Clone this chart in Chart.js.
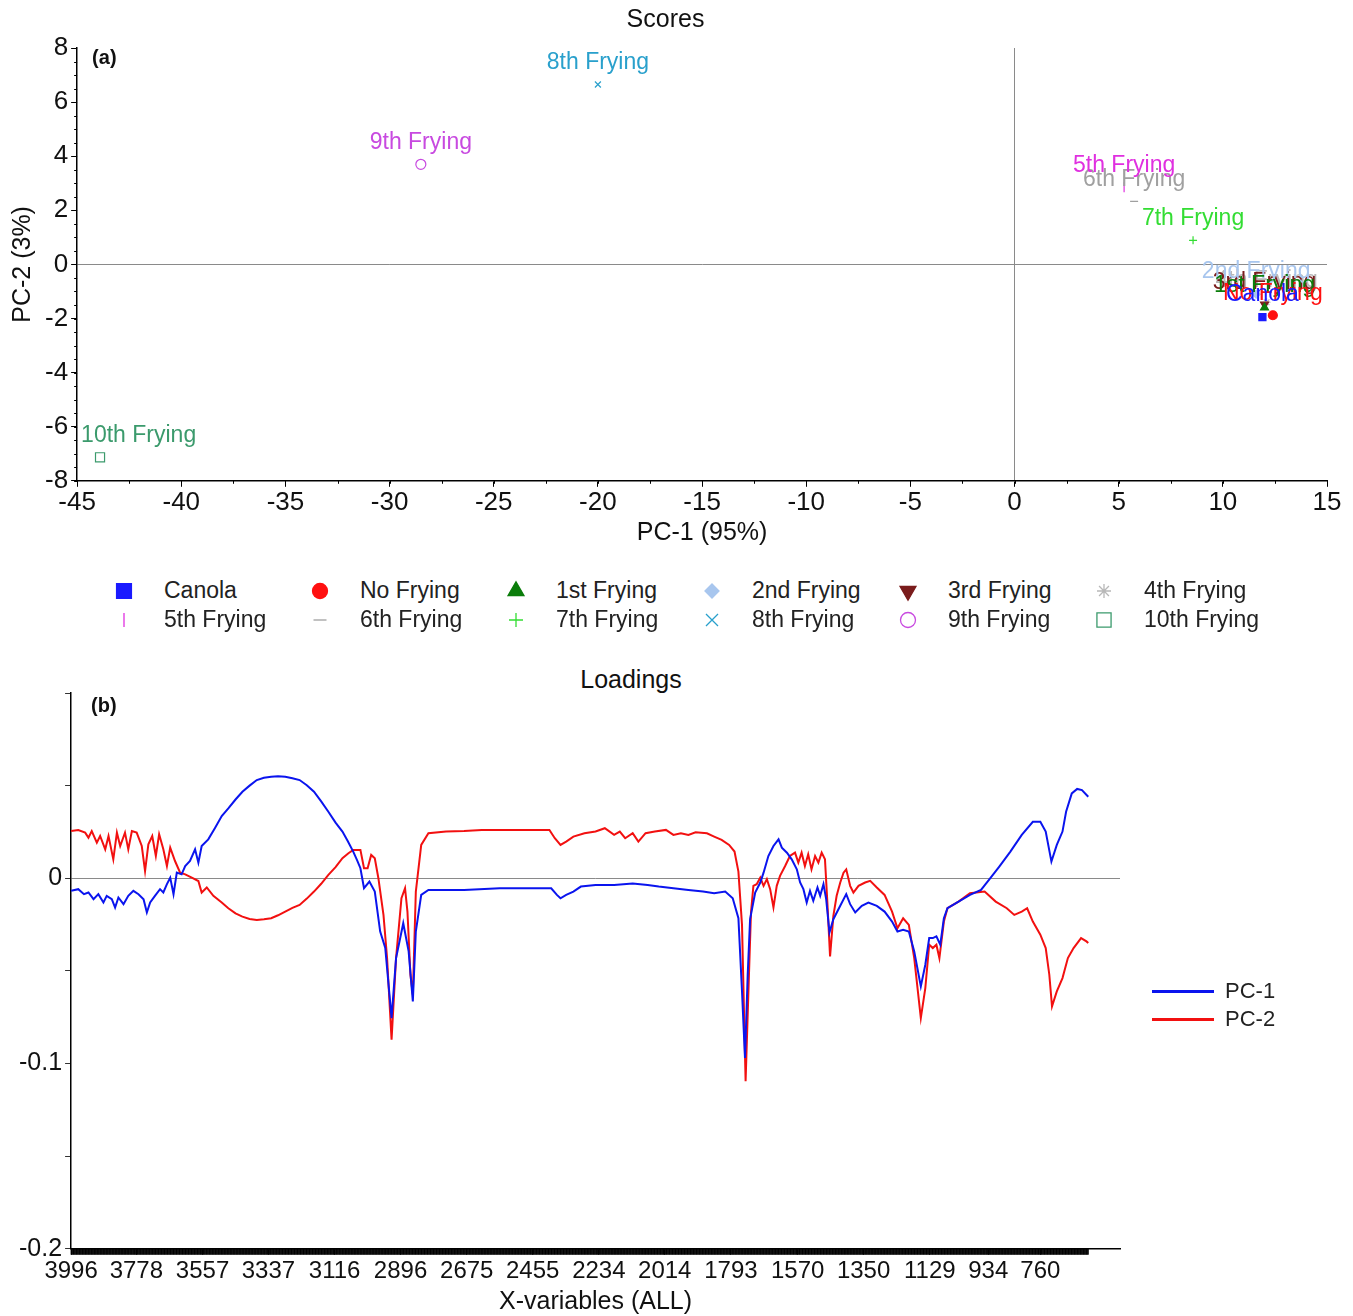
<!DOCTYPE html>
<html>
<head>
<meta charset="utf-8">
<title>Scores and Loadings</title>
<script src="https://cdn.jsdelivr.net/npm/chart.js"></script>
<style>
  body { margin: 0; background: #fff; font-family: "Liberation Sans", Arial, sans-serif; color: #222; }
  #page { position: relative; width: 1353px; height: 1316px; overflow: hidden; }
  #scoresBox { position: absolute; left: 0; top: 0; width: 1353px; height: 560px; }
  #loadBox { position: absolute; left: 0; top: 646px; width: 1353px; height: 670px; }
  #scoresLegend { position: absolute; left: 112px; top: 576px; display: grid; grid-template-columns: repeat(6, 196px); grid-auto-rows: 29px; }
  .item { display: flex; align-items: center; font-size: 23px; color: #222; white-space: nowrap; }
  .item canvas { width: 24px; height: 24px; margin-right: 28px; }
  #loadTitle { position: absolute; top: 664px; left: 531px; width: 200px; line-height: 30px; text-align: center; font-size: 25px; color: #111; }
  #loadLegend { position: absolute; left: 1152px; top: 977px; }
  .lrow { display: flex; align-items: center; height: 28px; font-size: 22px; color: #222; }
  .lrow span { display: inline-block; width: 62px; height: 3px; margin-right: 11px; }
</style>
</head>
<body>
<div id="page">
  <div id="scoresBox"><canvas id="scoresChart"></canvas></div>
  <div id="scoresLegend"></div>
  <div id="loadTitle">Loadings</div>
  <div id="loadBox"><canvas id="loadingsChart"></canvas></div>
  <div id="loadLegend"></div>
</div>
<script>
// ---- (a) scores ----
const sampleNames = ["Canola", "No Frying", "1st Frying", "2nd Frying", "3rd Frying", "4th Frying",
  "5th Frying", "6th Frying", "7th Frying", "8th Frying", "9th Frying", "10th Frying"];
const pc1Scores = [11.9, 12.4, 12.0, 11.6, 12.0, 12.1, 5.26, 5.74, 8.57, -20.0, -28.5, -43.9];
const pc2Scores = [-1.95, -1.88, -1.6, -1.1, -1.48, -1.4, 2.85, 2.33, 0.89, 6.65, 3.70, -7.13];

const markerColors = ["#1a1aff", "#ff1010", "#0b7d0b", "#a8c6ee", "#7a1c1c", "#b8b8b8",
  "#e030e0", "#a0a0a0", "#33dd33", "#29a0cc", "#c84ae0", "#3b9a6c"];
const markerStyles = ["rect", "circle", "triangle", "rectRot", "triangle", "star",
  "line", "line", "cross", "crossRot", "circle", "rect"];
const markerRotations = [0, 0, 0, 0, 180, 0, 90, 0, 0, 0, 0, 0];
const markerFilled = [true, true, true, true, true, false, false, false, false, false, false, false];
const markerRadius = [5, 4.5, 4.6, 4, 4.6, 4, 5, 4, 4, 4.2, 5, 6.4];
const legendRadius = [10.5, 7.5, 9.2, 7, 9.2, 7, 7, 6.5, 7, 8.5, 7.5, 10];

// ---- (b) loadings ----
const xTickLabels = [3996, 3778, 3557, 3337, 3116, 2896, 2675, 2455, 2234, 2014, 1793, 1570, 1350, 1129, 934, 760];

const pc1Wavenumbers = [
  3996, 3972, 3953, 3938, 3921, 3905, 3888, 3877, 3860, 3849,
  3838, 3821, 3805, 3788, 3771, 3754, 3743, 3732, 3716, 3699,
  3688, 3676, 3665, 3654, 3643, 3627, 3615, 3599, 3582, 3571,
  3560, 3538, 3515, 3493,
  3471, 3447, 3424, 3400, 3376, 3352, 3328, 3305, 3281, 3257,
  3233, 3209, 3185, 3161, 3137, 3113, 3090, 3072, 3054, 3042,
  3030, 3018, 3000, 2982, 2964, 2947, 2926, 2911, 2887, 2869,
  2855, 2845, 2827, 2803, 2684, 2565, 2446, 2393, 2374, 2362,
  2343, 2319, 2294, 2245, 2183, 2121, 2071, 2034, 1985, 1935,
  1886, 1849, 1812, 1787, 1768, 1756, 1746, 1737,
  1729, 1712, 1695, 1684, 1668, 1651, 1634, 1623, 1606, 1590,
  1573, 1562, 1551, 1540, 1529, 1518, 1504, 1495, 1484, 1475,
  1464, 1451, 1428, 1408, 1395, 1378, 1356, 1334, 1306,
  1280, 1255, 1237, 1218, 1199, 1181, 1159, 1144, 1131, 1119,
  1107, 1094, 1082, 1070, 1033, 995, 958, 927, 897, 860,
  822, 785, 760, 742, 723, 705, 686, 674, 655, 637,
  621, 600];
const pc1Loadings = [
  -0.0068, -0.0059, -0.0086, -0.0077, -0.0113, -0.0086, -0.0131, -0.0095, -0.0113, -0.0158,
  -0.0104, -0.0140, -0.0095, -0.0068, -0.0086, -0.0113, -0.0185, -0.0131, -0.0095, -0.0059,
  -0.0077, -0.0032, 0.0003, -0.0086, 0.0030, 0.0021, 0.0066, 0.0093, 0.0156, 0.0084,
  0.0174, 0.0210, 0.0273, 0.0336,
  0.0377, 0.0425, 0.0467, 0.0500, 0.0530, 0.0542, 0.0548, 0.0550, 0.0548, 0.0540,
  0.0530, 0.0502, 0.0467, 0.0415, 0.0359, 0.0300, 0.0252, 0.0200, 0.0144, 0.0100,
  0.0054, -0.0054, -0.0018, -0.0072, -0.0288, -0.0377, -0.0755, -0.0431, -0.0243, -0.0395,
  -0.0665, -0.0288, -0.0090, -0.0063, -0.0063, -0.0054, -0.0054, -0.0054, -0.0090, -0.0108,
  -0.0090, -0.0072, -0.0045, -0.0036, -0.0036, -0.0029, -0.0036, -0.0045, -0.0054, -0.0063,
  -0.0072, -0.0081, -0.0072, -0.0108, -0.0216, -0.0611, -0.0970, -0.0521,
  -0.0221, -0.0077, -0.0023, 0.0030, 0.0120, 0.0174, 0.0210, 0.0165, 0.0138, 0.0102,
  0.0048, -0.0023, -0.0059, -0.0131, -0.0068, -0.0122, -0.0050, -0.0095, -0.0032, -0.0113,
  -0.0293, -0.0221, -0.0149, -0.0086, -0.0140, -0.0185, -0.0149, -0.0131, -0.0149,
  -0.0180, -0.0234, -0.0288, -0.0279, -0.0288, -0.0395, -0.0584, -0.0467, -0.0323, -0.0323,
  -0.0314, -0.0359, -0.0216, -0.0162, -0.0126, -0.0090, -0.0063, 0.0000, 0.0063, 0.0144,
  0.0234, 0.0305, 0.0305, 0.0252, 0.0090, 0.0180, 0.0252, 0.0359, 0.0458, 0.0482,
  0.0476, 0.0440];

const pc2Wavenumbers = [
  3996, 3972, 3949, 3938, 3927, 3910, 3899, 3882, 3871, 3855,
  3843, 3832, 3816, 3805, 3793, 3777, 3760, 3749, 3738, 3725,
  3713, 3702, 3688, 3676, 3665, 3649, 3632, 3615, 3593, 3571,
  3560, 3543, 3521, 3493,
  3471, 3447, 3424, 3400, 3376, 3352, 3328, 3305, 3281, 3257,
  3233, 3209, 3185, 3161, 3137, 3113, 3090, 3070, 3054, 3030,
  3018, 3006, 2994, 2982, 2970, 2953, 2941, 2926, 2911, 2893,
  2881, 2873, 2863, 2855, 2845, 2827, 2803, 2744, 2684, 2625,
  2565, 2505, 2446, 2399, 2381, 2362, 2343, 2319, 2282, 2245,
  2214, 2183, 2164, 2146, 2121, 2102, 2078, 2047, 2010, 1985,
  1960, 1935, 1911, 1873, 1849, 1824, 1799, 1781, 1768, 1756,
  1744, 1731,
  1726, 1718, 1707, 1695, 1684, 1673, 1662, 1651, 1640, 1629,
  1612, 1596, 1579, 1568, 1557, 1546, 1535, 1524, 1512, 1501,
  1490, 1479, 1471, 1462, 1451, 1440, 1428, 1417, 1408, 1395,
  1384, 1367, 1345, 1328, 1306,
  1280, 1255, 1237, 1218, 1199, 1181, 1159, 1144, 1131, 1119,
  1107, 1097, 1082, 1070, 1033, 995, 946, 909, 872, 847,
  822, 804, 785, 760, 742, 730, 721, 705, 686, 668,
  649, 624, 606, 600];
const pc2Loadings = [
  0.0255, 0.0260, 0.0246, 0.0219, 0.0255, 0.0192, 0.0228, 0.0156, 0.0228, 0.0102,
  0.0246, 0.0174, 0.0246, 0.0156, 0.0255, 0.0246, 0.0174, 0.0039, 0.0183, 0.0228,
  0.0120, 0.0237, 0.0156, 0.0066, 0.0165, 0.0093, 0.0030, 0.0021, 0.0003, -0.0015,
  -0.0077, -0.0050, -0.0095, -0.0131,
  -0.0162, -0.0190, -0.0207, -0.0220, -0.0225, -0.0222, -0.0216, -0.0200, -0.0180, -0.0160,
  -0.0144, -0.0110, -0.0072, -0.0030, 0.0018, 0.0060, 0.0108, 0.0135, 0.0153, 0.0153,
  0.0054, 0.0054, 0.0126, 0.0108, 0.0000, -0.0198, -0.0431, -0.0872, -0.0431, -0.0108,
  -0.0054, -0.0180, -0.0521, -0.0629, -0.0072, 0.0180, 0.0243, 0.0252, 0.0255, 0.0261,
  0.0261, 0.0261, 0.0261, 0.0261, 0.0216, 0.0180, 0.0198, 0.0225, 0.0243, 0.0252,
  0.0270, 0.0234, 0.0252, 0.0216, 0.0243, 0.0198, 0.0243, 0.0252, 0.0261, 0.0234,
  0.0243, 0.0234, 0.0248, 0.0243, 0.0225, 0.0207, 0.0180, 0.0144, 0.0036, -0.0252,
  -0.1096, -0.0431,
  -0.0185, -0.0041, -0.0032, 0.0003, -0.0041, -0.0005, -0.0059, -0.0158, -0.0041, 0.0013,
  0.0066, 0.0120, 0.0138, 0.0084, 0.0138, 0.0066, 0.0129, 0.0048, 0.0120, 0.0084,
  0.0138, 0.0102, -0.0131, -0.0422, -0.0203, -0.0095, -0.0023, 0.0030, 0.0048, -0.0041,
  -0.0077, -0.0041, -0.0023, -0.0014, -0.0050,
  -0.0090, -0.0180, -0.0270, -0.0216, -0.0252, -0.0431, -0.0755, -0.0593, -0.0359, -0.0377,
  -0.0359, -0.0431, -0.0234, -0.0162, -0.0126, -0.0081, -0.0072, -0.0126, -0.0162, -0.0198,
  -0.0180, -0.0162, -0.0234, -0.0305, -0.0377, -0.0521, -0.0692, -0.0611, -0.0539, -0.0431,
  -0.0377, -0.0323, -0.0341, -0.0350];

const loadingNames = ["PC-1", "PC-2"];
const loadingColors = ["#0a14ee", "#f21010"];

Chart.defaults.font.family = '"Liberation Sans", Arial, sans-serif';
Chart.defaults.color = "#111";

// labels above each score point, kept inside the plot on the left
const pointLabels = {
  id: "pointLabels",
  afterDatasetsDraw(chart) {
    const ctx = chart.ctx, area = chart.chartArea;
    ctx.save();
    ctx.font = '23px "Liberation Sans", Arial, sans-serif';
    ctx.textBaseline = "middle";
    for (let i = chart.data.datasets.length - 1; i >= 0; i--) {
      const ds = chart.data.datasets[i];
      chart.getDatasetMeta(i).data.forEach(pt => {
        const w = ctx.measureText(ds.label).width;
        let left = pt.x - w / 2;
        if (left < area.left + 4) left = area.left + 4;
        ctx.fillStyle = markerColors[i];
        ctx.fillText(ds.label, left, pt.y - 22);
      });
    }
    ctx.restore();
  }
};

const panelTag = {
  id: "panelTag",
  afterDraw(chart, args, opts) {
    const ctx = chart.ctx;
    ctx.save();
    ctx.font = 'bold 20px "Liberation Sans", Arial, sans-serif';
    ctx.fillStyle = "#111";
    ctx.textBaseline = "middle";
    ctx.fillText(opts.text, chart.chartArea.left + opts.dx, chart.chartArea.top + opts.dy);
    ctx.restore();
  }
};

const minorTicks = {
  id: "minorTicks",
  afterDraw(chart) {
    const { x, y } = chart.scales, a = chart.chartArea, ctx = chart.ctx;
    ctx.save();
    ctx.strokeStyle = "#000";
    ctx.lineWidth = 1;
    ctx.beginPath();
    for (let v = x.min; v <= x.max; v += 2.5) {
      const px = Math.round(x.getPixelForValue(v)) + 0.5;
      ctx.moveTo(px, a.bottom); ctx.lineTo(px, a.bottom + 3);
    }
    for (let v = y.min; v <= y.max; v += 0.5) {
      const py = Math.round(y.getPixelForValue(v)) + 0.5;
      ctx.moveTo(a.left, py); ctx.lineTo(a.left - 3, py);
    }
    ctx.stroke();
    ctx.restore();
  }
};

// one tick per sampled variable: gives the solid band under the loadings axis
const denseTicks = {
  id: "denseTicks",
  afterDraw(chart) {
    const xs = chart.scales.x, b = chart.chartArea.bottom, ctx = chart.ctx;
    const last = pc1Wavenumbers[pc1Wavenumbers.length - 1];
    ctx.save();
    ctx.strokeStyle = "#000";
    ctx.lineWidth = 1;
    ctx.beginPath();
    for (let w = pc1Wavenumbers[0]; w >= last; w -= 2) {
      const px = xs.getPixelForValue(w);
      ctx.moveTo(px, b); ctx.lineTo(px, b + 6);
    }
    ctx.stroke();
    ctx.restore();
  }
};

const zeroLine = c => (Math.abs(c.tick.value) < 1e-9 ? "#8a8a8a" : "rgba(0,0,0,0)");

new Chart(document.getElementById("scoresChart"), {
  type: "scatter",
  data: {
    datasets: sampleNames.map((name, i) => ({
      label: name,
      data: [{ x: pc1Scores[i], y: pc2Scores[i] }],
      pointStyle: markerStyles[i],
      pointRotation: markerRotations[i],
      pointRadius: markerRadius[i],
      pointHoverRadius: markerRadius[i],
      pointBorderColor: markerColors[i],
      pointBackgroundColor: markerFilled[i] ? markerColors[i] : "rgba(0,0,0,0)",
      pointBorderWidth: 1.2
    }))
  },
  options: {
    animation: false,
    responsive: true,
    maintainAspectRatio: false,
    layout: { padding: { left: 4, right: 26, top: 0, bottom: 12 } },
    plugins: {
      legend: { display: false },
      tooltip: { enabled: false },
      title: { display: true, text: "Scores", font: { size: 25, weight: "normal" }, color: "#111", padding: { top: 5, bottom: 13 } },
      panelTag: { text: "(a)", dx: 15, dy: 10 }
    },
    scales: {
      x: {
        type: "linear", min: -45, max: 15,
        ticks: { stepSize: 5, font: { size: 26 }, color: "#111", padding: 0, autoSkip: false, maxRotation: 0 },
        grid: { color: zeroLine, tickColor: "#000", tickLength: 6, lineWidth: 1 },
        border: { display: true, color: "#000", width: 1.5 },
        title: { display: true, text: "PC-1 (95%)", font: { size: 25 }, color: "#111", padding: { top: 0, bottom: 0 } }
      },
      y: {
        min: -8, max: 8,
        ticks: { stepSize: 2, font: { size: 26 }, color: "#111", padding: 3 },
        grid: { color: zeroLine, tickColor: "#000", tickLength: 6, lineWidth: 1 },
        border: { display: true, color: "#000", width: 1.5 },
        title: { display: true, text: "PC-2 (3%)", font: { size: 25 }, color: "#111", padding: { top: 4, bottom: 4 } }
      }
    }
  },
  plugins: [pointLabels, panelTag, minorTicks]
});

new Chart(document.getElementById("loadingsChart"), {
  type: "line",
  data: {
    datasets: [
      { label: loadingNames[0], data: pc1Wavenumbers.map((w, i) => ({ x: w, y: pc1Loadings[i] })),
        borderColor: loadingColors[0], borderWidth: 2, pointRadius: 0, tension: 0 },
      { label: loadingNames[1], data: pc2Wavenumbers.map((w, i) => ({ x: w, y: pc2Loadings[i] })),
        borderColor: loadingColors[1], borderWidth: 2, pointRadius: 0, tension: 0 }
    ]
  },
  options: {
    animation: false,
    responsive: true,
    maintainAspectRatio: false,
    layout: { padding: { left: 16, right: 233, top: 47, bottom: 0 } },
    plugins: {
      legend: { display: false },
      tooltip: { enabled: false },
      panelTag: { text: "(b)", dx: 20, dy: 13 }
    },
    scales: {
      x: {
        type: "linear", reverse: true, min: 494, max: 3996,
        afterBuildTicks: scale => { scale.ticks = xTickLabels.map(v => ({ value: v })); },
        ticks: { font: { size: 24 }, color: "#111", padding: 2, autoSkip: false, maxRotation: 0, callback: v => String(v) },
        grid: { color: "rgba(0,0,0,0)", tickColor: "#000", tickLength: 6 },
        border: { display: true, color: "#000", width: 1.5 },
        title: { display: true, text: "X-variables (ALL)", font: { size: 25, lineHeight: 1.1 }, color: "#111", padding: { top: 1, bottom: 0 } }
      },
      y: {
        min: -0.2, max: 0.1,
        ticks: {
          stepSize: 0.05, font: { size: 25 }, color: "#111", padding: 3, autoSkip: false,
          callback: v => (Math.abs(v) < 1e-9 ? "0" : Math.abs(v + 0.1) < 1e-9 ? "-0.1" : Math.abs(v + 0.2) < 1e-9 ? "-0.2" : "")
        },
        grid: { color: zeroLine, tickColor: "#333", tickLength: 6 },
        border: { display: true, color: "#000", width: 1.5 }
      }
    }
  },
  plugins: [panelTag, denseTicks]
});

// scores legend: 6 columns x 2 rows, icons drawn with Chart.js point helper
const legendBox = document.getElementById("scoresLegend");
sampleNames.forEach((name, i) => {
  const item = document.createElement("div");
  item.className = "item";
  const c = document.createElement("canvas");
  c.width = 24; c.height = 24;
  const g = c.getContext("2d");
  g.fillStyle = markerFilled[i] ? markerColors[i] : "rgba(0,0,0,0)";
  g.strokeStyle = markerColors[i];
  g.lineWidth = 1.3;
  Chart.helpers.drawPoint(g, { pointStyle: markerStyles[i], rotation: markerRotations[i], radius: legendRadius[i], borderWidth: 1.3 }, 12, 12);
  item.appendChild(c);
  item.appendChild(document.createTextNode(name));
  legendBox.appendChild(item);
});

const loadLegend = document.getElementById("loadLegend");
loadingNames.forEach((n, i) => {
  const row = document.createElement("div");
  row.className = "lrow";
  row.innerHTML = `<span style="background:${loadingColors[i]}"></span>${n}`;
  loadLegend.appendChild(row);
});
</script>
</body>
</html>
